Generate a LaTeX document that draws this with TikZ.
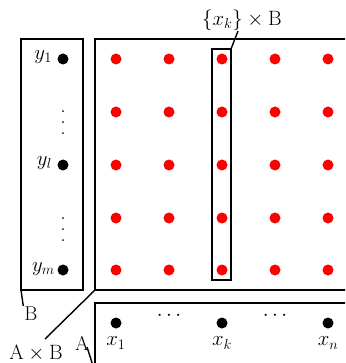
\documentclass[tikz,border=0pt]{standalone}
\newcommand{\myvdots}{\vbox{\baselineskip=11pt\lineskiplimit=0pt\hbox{.}\hbox{.}\hbox{.}}}
\begin{document}
\begin{tikzpicture}[x=1pt,y=-1pt,
  box/.style={draw,line width=1.6pt},
  rdot/.style={circle,fill=red,inner sep=0pt,minimum size=11pt},
  bdot/.style={circle,fill=black,inner sep=0pt,minimum size=11pt},
  lbl/.style={inner sep=1pt,font=\fontsize{20}{24}\selectfont},
  lead/.style={line width=1.4pt}]
\useasboundingbox (0,0) rectangle (345,363);
\clip (0,0) rectangle (345,363);
% boxes
\draw[box] (21,39) rectangle (83,290);
\coordinate (Bc) at (21,290);
\draw[box] (95,39) rectangle (370,290);
\coordinate (ABc) at (95,290);
\draw[box] (95,303) rectangle (370,372);
\coordinate (Ac) at (95,372);
\draw[box] (212,49) rectangle (231,280);
\coordinate (Xc) at (231,49);
% red grid
\foreach \i/\x in {1/116,2/169,3/222,4/275,5/328}{
  \foreach \j/\y in {1/59,2/112,3/165,4/218,5/270}{
    \node[rdot] (r\i\j) at (\x,\y) {};
  }
}
% B dots
\node[bdot] (y1) at (63,59) {};
\node[bdot] (yl) at (63,165) {};
\node[bdot] (ym) at (63,270) {};
\node[lbl,anchor=east] (ly1) at (53,57) {$y_1$};
\node[lbl,anchor=east] (lyl) at (53,163) {$y_l$};
\node[lbl,anchor=east] (lym) at (56,269) {$y_m$};
\node[lbl,font=\fontsize{22}{24}\selectfont] (vd1) at (63,123) {\myvdots};
\node[lbl,font=\fontsize{22}{24}\selectfont] (vd2) at (63,230) {\myvdots};
% A dots
\node[bdot] (x1) at (116,323) {};
\node[bdot] (xk) at (222,323) {};
\node[bdot] (xn) at (328,323) {};
\node[lbl] (hd1) at (169,316) {$\cdots$};
\node[lbl] (hd2) at (275,316) {$\cdots$};
\node[lbl] (lx1) at (116,343) {$x_1$};
\node[lbl] (lxk) at (222,343) {$x_k$};
\node[lbl] (lxn) at (328,343) {$x_n$};
% labels
\node[lbl] (lXB) at (242,20) {$\{x_k\}\times\mathrm{B}$};
\node[lbl] (lB) at (31,314) {B};
\node[lbl] (lAB) at (36,353) {$\mathrm{A}\times\mathrm{B}$};
\node[lbl] (lA) at (82,343) {A};
\draw[lead] (Xc) -- (238,31);
\draw[lead] (Bc) -- (lB.north west);
\draw[lead] (ABc) -- (45,339);
\draw[lead] (87,347) -- (Ac);
\end{tikzpicture}
\end{document}
